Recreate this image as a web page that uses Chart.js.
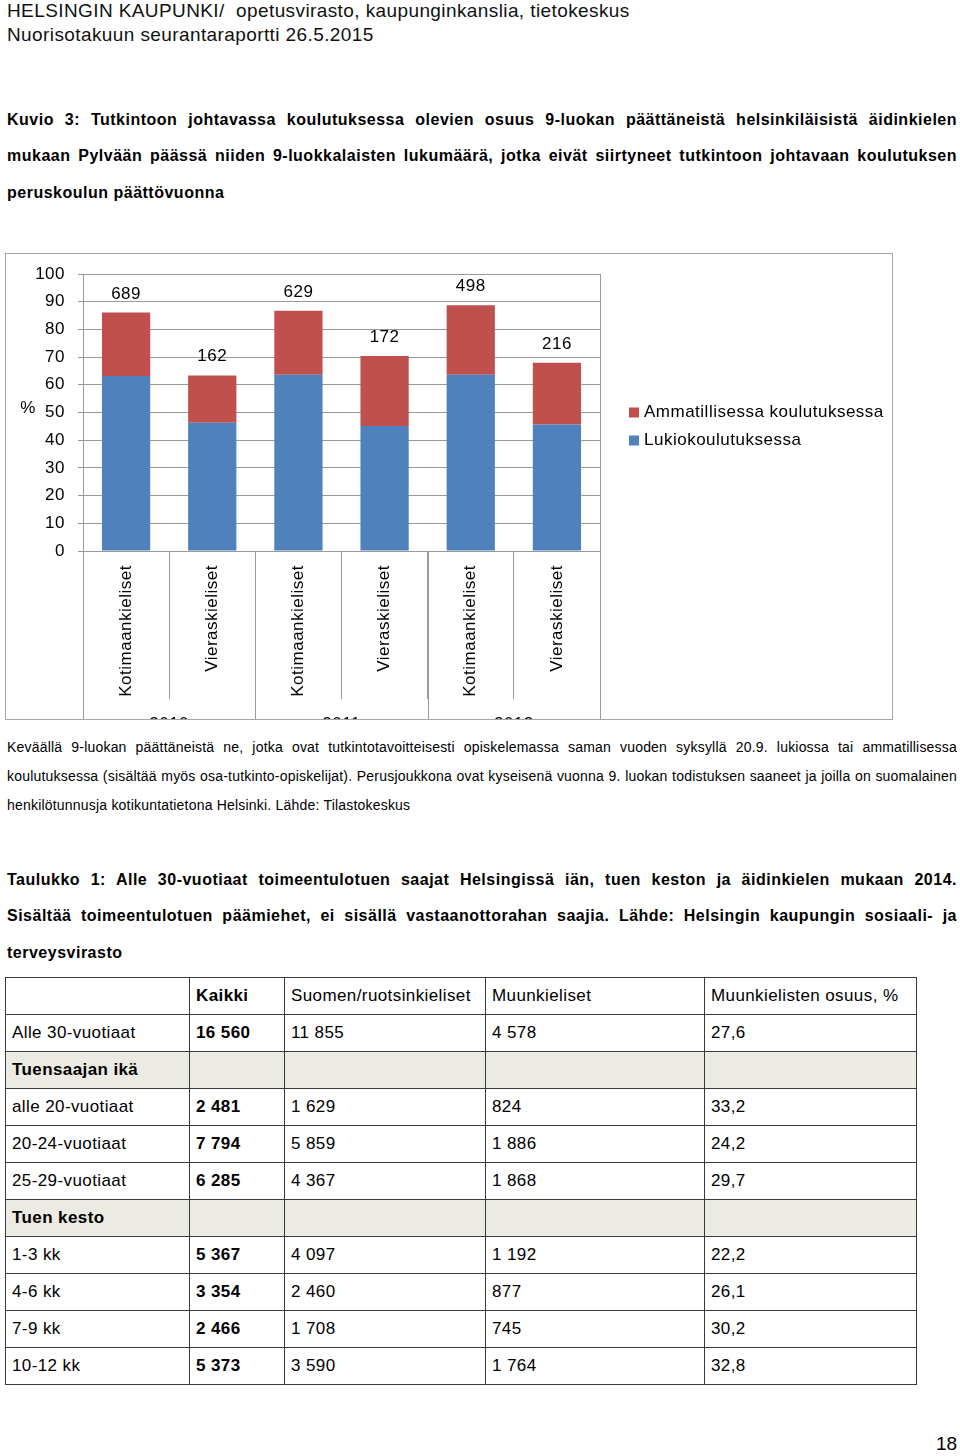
<!DOCTYPE html>
<html lang="fi">
<head>
<meta charset="utf-8">
<title>Nuorisotakuun seurantaraportti 26.5.2015</title>
<script src="https://cdn.jsdelivr.net/npm/chart.js@4.4.1/dist/chart.umd.min.js"></script>
<style>
  body { margin:0; width:960px; height:1456px; position:relative; background:#fff; color:#000;
         font-family:"Liberation Sans", Arial, sans-serif; overflow:hidden; }
  .abs { position:absolute; }
  .hdr { left:7px; top:-1px; font-size:19px; line-height:24px; letter-spacing:0.4px; color:#111; }
  .head { left:7px; width:950px; font-weight:bold; font-size:16px; letter-spacing:0.5px; }
  .head div { height:36.3px; line-height:36.3px; text-align:justify; text-align-last:justify; }
  .cap { left:7px; width:950px; font-size:14px; letter-spacing:0.2px; }
  .cap div { height:29px; line-height:29px; text-align:justify; text-align-last:justify; }
  .head div.last, .cap div.last { text-align-last:left; }
  #chartBox { left:5px; top:253px; width:886px; height:465px; border:1px solid #a6a6a6; }
  table { border-collapse:collapse; left:5px; top:977px; font-size:17px; letter-spacing:0.4px; }
  td { border:1px solid #3a3a3a; height:36px; padding:0 6px; vertical-align:middle; }
  td.b { font-weight:bold; }
  tr.sec td { background:#ecebe3; }
  .page { left:936px; top:1433px; font-size:19px; }
</style>
</head>
<body>

<div class="abs hdr">HELSINGIN KAUPUNKI/&nbsp; opetusvirasto, kaupunginkanslia, tietokeskus<br>Nuorisotakuun seurantaraportti 26.5.2015</div>

<div class="abs head" style="top:102px">
  <div>Kuvio 3: Tutkintoon johtavassa koulutuksessa olevien osuus 9-luokan päättäneistä helsinkiläisistä äidinkielen</div>
  <div>mukaan Pylvään päässä niiden 9-luokkalaisten lukumäärä, jotka eivät siirtyneet tutkintoon johtavaan koulutuksen</div>
  <div class="last">peruskoulun päättövuonna</div>
</div>

<div id="chartBox" class="abs"><canvas id="chart" width="886" height="465"></canvas></div>

<div class="abs cap" style="top:733px">
  <div>Keväällä 9-luokan päättäneistä ne, jotka ovat tutkintotavoitteisesti opiskelemassa saman vuoden syksyllä 20.9. lukiossa tai ammatillisessa</div>
  <div>koulutuksessa (sisältää myös osa-tutkinto-opiskelijat). Perusjoukkona ovat kyseisenä vuonna 9. luokan todistuksen saaneet ja joilla on suomalainen</div>
  <div class="last">henkilötunnusja kotikuntatietona Helsinki. Lähde: Tilastokeskus</div>
</div>

<div class="abs head" style="top:862px">
  <div>Taulukko 1: Alle 30-vuotiaat toimeentulotuen saajat Helsingissä iän, tuen keston ja äidinkielen mukaan 2014.</div>
  <div>Sisältää toimeentulotuen päämiehet, ei sisällä vastaanottorahan saajia. Lähde: Helsingin kaupungin sosiaali- ja</div>
  <div class="last">terveysvirasto</div>
</div>

<table class="abs" id="tbl"></table>

<div class="abs page">18</div>

<script>
// Kuvion tiedot
var categories = ['Kotimaankieliset', 'Vieraskieliset', 'Kotimaankieliset', 'Vieraskieliset', 'Kotimaankieliset', 'Vieraskieliset'];
var years = ['2010', '2011', '2012'];
var lukio = [63.2, 46.3, 63.6, 45.1, 63.6, 45.7];
var ammatillinen = [22.9, 17.1, 23.1, 25.3, 25.1, 22.3];
var ulkopuolella = [689, 162, 629, 172, 498, 216];
var yTicks = [0, 100, 10];

// Taulukon tiedot
var tableHead = ['', 'Kaikki', 'Suomen/ruotsinkieliset', 'Muunkieliset', 'Muunkielisten osuus, %'];
var tableRows = [
  ['Alle 30-vuotiaat', '16 560', '11 855', '4 578', '27,6'],
  ['Tuensaajan ikä'],
  ['alle 20-vuotiaat', '2 481', '1 629', '824', '33,2'],
  ['20-24-vuotiaat', '7 794', '5 859', '1 886', '24,2'],
  ['25-29-vuotiaat', '6 285', '4 367', '1 868', '29,7'],
  ['Tuen kesto'],
  ['1-3 kk', '5 367', '4 097', '1 192', '22,2'],
  ['4-6 kk', '3 354', '2 460', '877', '26,1'],
  ['7-9 kk', '2 466', '1 708', '745', '30,2'],
  ['10-12 kk', '5 373', '3 590', '1 764', '32,8']
];

var colWidths = [184, 95, 201, 219, 212];
var tbl = document.getElementById('tbl');
function addRow(cells, cls) {
  var tr = document.createElement('tr');
  if (cls) tr.className = cls;
  for (var i = 0; i < 5; i++) {
    var td = document.createElement('td');
    td.style.width = (colWidths[i] - 13) + 'px';
    td.textContent = cells[i] || '';
    if (i === 1 || (cls === 'sec' && i === 0)) td.className = 'b';
    tr.appendChild(td);
  }
  tbl.appendChild(tr);
}
addRow(tableHead, 'hd');
tableRows.forEach(function(r) { addRow(r, r.length === 1 ? 'sec' : ''); });

var RED = '#C0504D', BLUE = '#4F81BD', GRID = '#9a9a9a';
var FONT = { family: '"Liberation Sans", Arial, sans-serif', size: 17 };

// lisäpiirrot: lukumäärät, vuosiryhmät, %-merkki ja selite
var decor = {
  id: 'decor',
  beforeDraw: function(chart) {
    chart.ctx.letterSpacing = '0.5px';
  },
  afterDraw: function(chart) {
    var ctx = chart.ctx, a = chart.chartArea;
    var xs = chart.scales.x, ys = chart.scales.y;
    var fnt = FONT.size + 'px ' + FONT.family;
    ctx.save();
    ctx.strokeStyle = GRID;
    ctx.lineWidth = 1;
    ctx.beginPath();
    ctx.moveTo(Math.round(a.right) + 0.5, a.top);
    ctx.lineTo(Math.round(a.right) + 0.5, a.bottom);
    // vuosien rajat
    var step = (xs.getPixelForValue(1) - xs.getPixelForValue(0));
    for (var g = 0; g <= years.length; g++) {
      var bx = Math.round(xs.getPixelForValue(g * 2) - step / 2) + 0.5;
      ctx.moveTo(bx, a.bottom);
      ctx.lineTo(bx, chart.height);
    }
    ctx.stroke();

    ctx.fillStyle = '#000';
    ctx.font = fnt;
    ctx.textAlign = 'center';
    ctx.textBaseline = 'alphabetic';
    for (var i = 0; i < categories.length; i++) {
      var top = ys.getPixelForValue(lukio[i] + ammatillinen[i]);
      ctx.fillText(String(ulkopuolella[i]), xs.getPixelForValue(i), top - 14);
    }
    ctx.textBaseline = 'top';
    for (var y = 0; y < years.length; y++) {
      var cx = (xs.getPixelForValue(y * 2) + xs.getPixelForValue(y * 2 + 1)) / 2;
      ctx.fillText(years[y], cx, chart.height - 3);
    }
    ctx.textBaseline = 'middle';
    ctx.fillText('%', a.left - 55, ys.getPixelForValue(51.5));

    // selite, järjestys kuten alkuperäisessä
    var mid = (a.top + a.bottom) / 2;
    var items = chart.data.datasets.slice().reverse();
    ctx.textAlign = 'left';
    items.forEach(function(ds, k) {
      var ly = mid + k * 28;
      ctx.fillStyle = ds.backgroundColor;
      ctx.fillRect(a.right + 29, ly - 5, 10, 10);
      ctx.fillStyle = '#000';
      ctx.fillText(ds.label, a.right + 44, ly);
    });
    ctx.restore();
  }
};

new Chart(document.getElementById('chart'), {
  type: 'bar',
  data: {
    labels: categories,
    datasets: [
      { label: 'Lukiokoulutuksessa', data: lukio, backgroundColor: BLUE },
      { label: 'Ammatillisessa koulutuksessa', data: ammatillinen, backgroundColor: RED }
    ]
  },
  options: {
    responsive: false,
    animation: false,
    events: [],
    layout: { padding: { top: 20, right: 292, left: 0, bottom: 0 } },
    datasets: { bar: { categoryPercentage: 1, barPercentage: 0.56 } },
    plugins: {
      legend: { display: false },
      tooltip: { enabled: false }
    },
    scales: {
      x: {
        stacked: true,
        grid: { drawOnChartArea: false, color: GRID, tickLength: 148, offset: true },
        border: { color: GRID },
        ticks: { minRotation: 90, maxRotation: 90, autoSkip: false, padding: -134, color: '#000', font: FONT },
        afterFit: function(s) { s.height = 168; }
      },
      y: {
        stacked: true,
        min: yTicks[0], max: yTicks[1],
        ticks: { stepSize: yTicks[2], padding: 13, color: '#000', font: FONT },
        grid: { color: GRID, tickLength: 5 },
        border: { color: GRID },
        afterFit: function(s) { s.width = 77; s.paddingTop = 0; s.paddingBottom = 0; }
      }
    }
  },
  plugins: [decor]
});
</script>
</body>
</html>
